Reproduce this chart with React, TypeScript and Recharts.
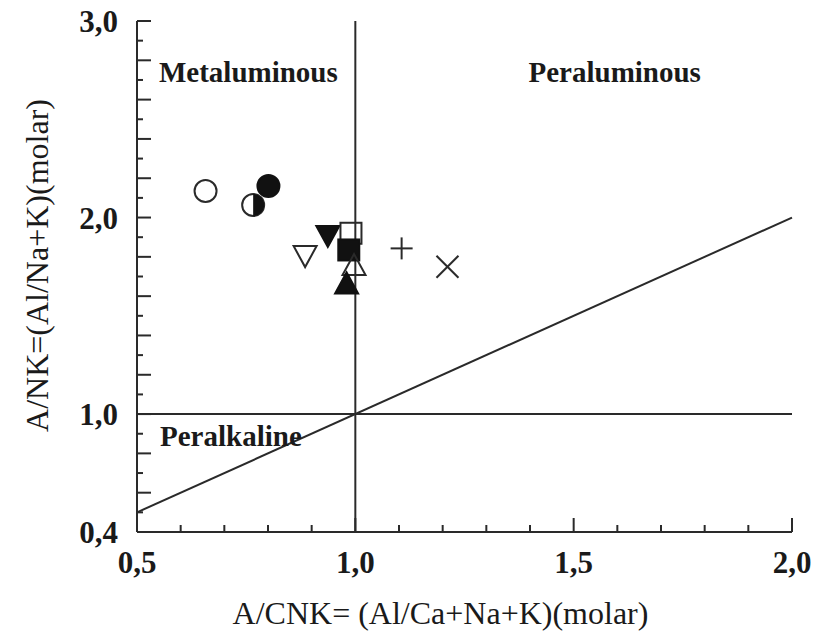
import { ScatterChart, Scatter, XAxis, YAxis, ReferenceLine, ReferenceDot, Label } from "recharts";

// A/CNK vs A/NK (molar) per sample
const acnk = [0.657, 0.801, 0.766, 0.885, 0.937, 0.99, 0.985, 0.997, 0.98, 1.106, 1.211];
const ank = [2.135, 2.16, 2.064, 1.804, 1.906, 1.92, 1.835, 1.758, 1.665, 1.843, 1.75];
const symbols = [
	"circleOpen",
	"circleFilled",
	"circleHalf",
	"triDownOpen",
	"triDownFilled",
	"squareOpen",
	"squareFilled",
	"triUpOpen",
	"triUpFilled",
	"plus",
	"cross",
];

const xTicks = [0.5, 0.6, 0.7, 0.8, 0.9, 1.0, 1.1, 1.2, 1.3, 1.4, 1.5, 1.6, 1.7, 1.8, 1.9, 2.0];
const xLabels = [0.5, 1.0, 1.5, 2.0];
const yTicks = [
	0.4, 0.5, 0.6, 0.7, 0.8, 0.9, 1.0, 1.1, 1.2, 1.3, 1.4, 1.5, 1.6, 1.7, 1.8, 1.9, 2.0, 2.1, 2.2,
	2.3, 2.4, 2.5, 2.6, 2.7, 2.8, 2.9, 3.0,
];
const yLabels = [0.4, 1.0, 2.0, 3.0];

const regionNames = ["Metaluminous", "Peraluminous", "Peralkaline"];
const regionX = [0.755, 1.594, 0.715];
const regionY = [2.74, 2.74, 0.888];

const points = acnk.map((x, i) => ({ x, y: ank[i], kind: symbols[i] }));

const INK = "#2a2a2a";
const SERIF = "'Liberation Serif', 'Times New Roman', serif";

const fmt = (v: number) => v.toFixed(1).replace(".", ",");
const isHalf = (v: number) => Math.abs(v * 2 - Math.round(v * 2)) < 1e-6;
const isEvenTenth = (v: number) => Math.round(v * 10) % 2 === 0;

function BottomTick({ x, y, payload }: any) {
	const v = payload.value;
	const len = isHalf(v) ? 14 : 7;
	return (
		<g>
			<line x1={x} x2={x} y1={y} y2={y - len} stroke={INK} strokeWidth={2} />
			{xLabels.includes(v) && (
				<text x={x} y={y + 41} textAnchor="middle" fontFamily={SERIF} fontWeight="bold" fontSize={31} fill="#1a1a1a">
					{fmt(v)}
				</text>
			)}
		</g>
	);
}

function TopTick({ x, y, payload }: any) {
	const len = isHalf(payload.value) ? 14 : 7;
	return <line x1={x} x2={x} y1={y} y2={y + len} stroke={INK} strokeWidth={2} />;
}

function LeftTick({ x, y, payload }: any) {
	const v = payload.value;
	const len = isEvenTenth(v) ? 14 : 6;
	return (
		<g>
			<line x1={x} x2={x + len} y1={y} y2={y} stroke={INK} strokeWidth={2} />
			{yLabels.includes(v) && (
				<text x={x - 19} y={y + 11} textAnchor="end" fontFamily={SERIF} fontWeight="bold" fontSize={31} fill="#1a1a1a">
					{fmt(v)}
				</text>
			)}
		</g>
	);
}

function RightTick({ x, y, payload }: any) {
	const len = isEvenTenth(payload.value) ? 14 : 6;
	return <line x1={x - len} x2={x} y1={y} y2={y} stroke={INK} strokeWidth={2} />;
}

function Marker({ cx, cy, payload }: any) {
	const r = 11;
	const sw = 2;
	switch (payload.kind) {
		case "circleOpen":
			return <circle cx={cx} cy={cy} r={r} fill="none" stroke={INK} strokeWidth={sw} />;
		case "circleFilled":
			return <circle cx={cx} cy={cy} r={r} fill="#111" stroke="#111" strokeWidth={sw} />;
		case "circleHalf":
			return (
				<g>
					<circle cx={cx} cy={cy} r={r} fill="#fff" stroke={INK} strokeWidth={sw} />
					<path d={`M${cx},${cy - r} A${r},${r} 0 0 1 ${cx},${cy + r} Z`} fill="#111" />
				</g>
			);
		case "triDownOpen":
		case "triDownFilled": {
			const filled = payload.kind === "triDownFilled";
			return (
				<path
					d={`M${cx - 11.5},${cy - 10} L${cx + 11.5},${cy - 10} L${cx},${cy + 11} Z`}
					fill={filled ? "#111" : "none"}
					stroke={filled ? "#111" : INK}
					strokeWidth={sw}
				/>
			);
		}
		case "triUpOpen":
		case "triUpFilled": {
			const filled = payload.kind === "triUpFilled";
			return (
				<path
					d={`M${cx - 11.5},${cy + 10} L${cx + 11.5},${cy + 10} L${cx},${cy - 11} Z`}
					fill={filled ? "#111" : "none"}
					stroke={filled ? "#111" : INK}
					strokeWidth={sw}
				/>
			);
		}
		case "squareOpen":
		case "squareFilled": {
			const filled = payload.kind === "squareFilled";
			return (
				<rect
					x={cx - 10.5}
					y={cy - 10.5}
					width={21}
					height={21}
					fill={filled ? "#111" : "none"}
					stroke={filled ? "#111" : INK}
					strokeWidth={sw}
				/>
			);
		}
		case "plus":
			return (
				<g stroke={INK} strokeWidth={sw}>
					<line x1={cx - 11} x2={cx + 11} y1={cy} y2={cy} />
					<line x1={cx} x2={cx} y1={cy - 11} y2={cy + 11} />
				</g>
			);
		default:
			return (
				<g stroke={INK} strokeWidth={sw}>
					<line x1={cx - 11} x2={cx + 11} y1={cy - 11} y2={cy + 11} />
					<line x1={cx - 11} x2={cx + 11} y1={cy + 11} y2={cy - 11} />
				</g>
			);
	}
}

function XTitle({ viewBox }: any) {
	const vb = viewBox ?? { x: 137, y: 532, width: 655 };
	return (
		<text x={vb.x + vb.width / 2 - 24} y={vb.y + 92} textAnchor="middle" fontFamily={SERIF} fontSize={32} fill="#1a1a1a">
			A/CNK= (Al/Ca+Na+K)(molar)
		</text>
	);
}

function YTitle({ viewBox }: any) {
	const vb = viewBox ?? { x: 0, y: 21, height: 511 };
	const cx = vb.x + 37;
	const cy = vb.y + vb.height / 2 - 11;
	return (
		<text
			x={cx}
			y={cy}
			transform={`rotate(-90, ${cx}, ${cy})`}
			textAnchor="middle"
			dominantBaseline="central"
			fontFamily={SERIF}
			fontSize={32}
			fill="#1a1a1a"
		>
			A/NK=(Al/Na+K)(molar)
		</text>
	);
}

export default function App() {
	return (
		<div style={{ position: "absolute", left: 0, top: 0, background: "#fff" }}>
			<ScatterChart width={815} height={635} margin={{ top: 21, right: 23, bottom: 43, left: 0 }}>
				<XAxis
					xAxisId="b"
					type="number"
					dataKey="x"
					domain={[0.5, 2]}
					allowDataOverflow
					ticks={xTicks}
					interval={0}
					height={60}
					tickSize={0}
					tickMargin={0}
					tickLine={false}
					axisLine={{ stroke: INK, strokeWidth: 2 }}
					tick={<BottomTick />}
				>
					<Label content={<XTitle />} />
				</XAxis>
				<XAxis
					xAxisId="t"
					orientation="top"
					type="number"
					domain={[0.5, 2]}
					allowDataOverflow
					ticks={xTicks}
					interval={0}
					height={0}
					tickSize={0}
					tickMargin={0}
					tickLine={false}
					axisLine={{ stroke: INK, strokeWidth: 2 }}
					tick={<TopTick />}
				/>
				<YAxis
					yAxisId="l"
					type="number"
					dataKey="y"
					domain={[0.4, 3]}
					allowDataOverflow
					ticks={yTicks}
					interval={0}
					width={137}
					tickSize={0}
					tickMargin={0}
					tickLine={false}
					axisLine={{ stroke: INK, strokeWidth: 2 }}
					tick={<LeftTick />}
				>
					<Label content={<YTitle />} />
				</YAxis>
				<YAxis
					yAxisId="r"
					orientation="right"
					type="number"
					domain={[0.4, 3]}
					allowDataOverflow
					ticks={yTicks}
					interval={0}
					width={0}
					tickSize={0}
					tickMargin={0}
					tickLine={false}
					axisLine={{ stroke: INK, strokeWidth: 2 }}
					tick={<RightTick />}
				/>
				<ReferenceLine xAxisId="b" yAxisId="l" x={1} stroke={INK} strokeWidth={2} />
				<ReferenceLine xAxisId="b" yAxisId="l" y={1} stroke={INK} strokeWidth={2} />
				<ReferenceLine
					xAxisId="b"
					yAxisId="l"
					segment={[
						{ x: 0.5, y: 0.5 },
						{ x: 2, y: 2 },
					]}
					stroke={INK}
					strokeWidth={2}
				/>
				{regionNames.map((name, i) => (
					<ReferenceDot
						key={name}
						xAxisId="b"
						yAxisId="l"
						x={regionX[i]}
						y={regionY[i]}
						r={0}
						shape={(p: any) => (
							<text
								x={p.cx}
								y={p.cy}
								textAnchor="middle"
								dominantBaseline="central"
								fontFamily={SERIF}
								fontWeight="bold"
								fontSize={29}
								fill="#1a1a1a"
							>
								{name}
							</text>
						)}
					/>
				))}
				<Scatter xAxisId="b" yAxisId="l" data={points} shape={<Marker />} isAnimationActive={false} />
			</ScatterChart>
		</div>
	);
}
